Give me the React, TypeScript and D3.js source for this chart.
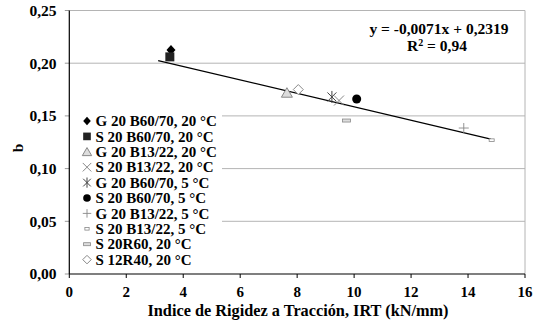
import React from "react";
import * as d3 from "d3";

const seriesNames = [
  "G 20 B60/70, 20 °C",
  "S 20 B60/70, 20 °C",
  "G 20 B13/22, 20 °C",
  "S 20 B13/22, 20 °C",
  "G 20 B60/70, 5 °C",
  "S 20 B60/70, 5 °C",
  "G 20 B13/22, 5 °C",
  "S 20 B13/22, 5 °C",
  "S 20R60, 20 °C",
  "S 12R40, 20 °C",
];
const seriesIRT = [3.57, 3.53, 7.64, 9.47, 9.22, 10.09, 13.85, 14.83, 9.73, 8.04];
const seriesB = [0.2125, 0.206, 0.172, 0.1646, 0.168, 0.166, 0.1385, 0.127, 0.1456, 0.175];
const markerKinds = ["diamondFill", "squareFill", "triangle", "cross", "asterisk", "circleFill", "plus", "smallDash", "dash", "diamondOpen"];

const trendX = [3.12, 14.8];
const trendY = [0.2025, 0.128];

const xTicks = [0, 2, 4, 6, 8, 10, 12, 14, 16];
const yTicks = [0, 0.05, 0.1, 0.15, 0.2, 0.25];

const W = 535, H = 322;
const L = 69.3, R = 525, T = 10.5, B = 274;
const FONT = "'Liberation Serif', 'Times New Roman', serif";

function Marker({ kind, x, y, s = 1 }: { kind: string; x: number; y: number; s?: number }) {
  const g = "#888";
  switch (kind) {
    case "diamondFill":
      return <path d={`M${x},${y - 5 * s}L${x + 4.5 * s},${y}L${x},${y + 5 * s}L${x - 4.5 * s},${y}Z`} fill="#000" />;
    case "squareFill":
      return <rect x={x - 4.5 * s} y={y - 4.5 * s} width={9 * s} height={9 * s} fill="#222" />;
    case "triangle":
      return <path d={`M${x},${y - 5 * s}L${x + 5.5 * s},${y + 4.5 * s}L${x - 5.5 * s},${y + 4.5 * s}Z`} fill="#ddd" stroke={g} strokeWidth={1} />;
    case "cross":
      return <path d={`M${x - 5 * s},${y - 5 * s}L${x + 5 * s},${y + 5 * s}M${x - 5 * s},${y + 5 * s}L${x + 5 * s},${y - 5 * s}`} stroke={g} strokeWidth={1} />;
    case "asterisk":
      return <path d={`M${x - 4.5 * s},${y - 4.5 * s}L${x + 4.5 * s},${y + 4.5 * s}M${x - 4.5 * s},${y + 4.5 * s}L${x + 4.5 * s},${y - 4.5 * s}M${x},${y - 6 * s}L${x},${y + 6 * s}`} stroke="#444" strokeWidth={1} />;
    case "circleFill":
      return <circle cx={x} cy={y} r={4.5 * s} fill="#000" />;
    case "plus":
      return <path d={`M${x - 5 * s},${y}L${x + 5 * s},${y}M${x},${y - 5 * s}L${x},${y + 5 * s}`} stroke={g} strokeWidth={0.9} />;
    case "smallDash":
      return <rect x={x - 2.5 * s} y={y - 1.3} width={5 * s} height={2.6} fill="#fff" stroke={g} strokeWidth={0.8} />;
    case "dash":
      return <rect x={x - 4 * s} y={y - 1.5} width={8 * s} height={3} fill="#ddd" stroke={g} strokeWidth={0.8} />;
    case "diamondOpen":
      return <path d={`M${x},${y - 5 * s}L${x + 5 * s},${y}L${x},${y + 5 * s}L${x - 5 * s},${y}Z`} fill="#fff" stroke={g} strokeWidth={1} />;
  }
  return null;
}

export default function App() {
  const x = d3.scaleLinear().domain([0, 16]).range([L, R]);
  const y = d3.scaleLinear().domain([0, 0.25]).range([B, T]);
  const fmtY = (v: number) => d3.format(".2f")(v).replace(".", ",");
  const line = d3.line<number>().x((_, i) => x(trendX[i])).y((v) => y(v));

  const legTop = 121, legStep = 15.4;

  return (
    <div style={{ position: "absolute", left: 0, top: 0 }}>
      <svg width={W} height={H} style={{ display: "block", background: "#fff" }} fontFamily={FONT}>
        {yTicks.filter((t) => t > 0).map((t) => (
          <line key={t} x1={L} x2={R} y1={y(t)} y2={y(t)} stroke="#b4b4b4" strokeWidth={1} />
        ))}
        <line x1={R} x2={R} y1={T} y2={B} stroke="#b4b4b4" strokeWidth={1} />
        {yTicks.map((t) => (
          <line key={t} x1={L - 4.5} x2={L} y1={y(t)} y2={y(t)} stroke="#999" strokeWidth={1} />
        ))}
        {yTicks.map((t) => (
          <text key={t} x={56.5} y={y(t)} dy="0.35em" textAnchor="end" fontSize={15.5} fontWeight="bold">
            {fmtY(t)}
          </text>
        ))}
        <rect x={L + 0.7} y={112} width={222 - L - 0.7} height={156} fill="#fff" />
        <line x1={L} x2={L} y1={T} y2={B} stroke="#000" strokeWidth={1.2} />
        <line x1={L} x2={R} y1={B} y2={B} stroke="#000" strokeWidth={1.2} />
        {xTicks.map((t) => (
          <line key={t} x1={x(t)} x2={x(t)} y1={B} y2={B + 4} stroke="#000" strokeWidth={1} />
        ))}
        {xTicks.map((t) => (
          <text key={t} x={x(t)} y={297} textAnchor="middle" fontSize={15} fontWeight="bold">
            {t}
          </text>
        ))}
        <path d={line(trendY) || ""} stroke="#000" strokeWidth={1.2} fill="none" />
        {seriesNames.map((n, i) => (
          <Marker key={n} kind={markerKinds[i]} x={x(seriesIRT[i])} y={y(seriesB[i])} />
        ))}
        {seriesNames.map((n, i) => (
          <g key={n}>
            <Marker kind={markerKinds[i]} x={87} y={legTop + i * legStep} s={0.85} />
            <text x={95.5} y={legTop + i * legStep} dy="0.35em" fontSize={15} fontWeight="bold">
              {n}
            </text>
          </g>
        ))}
        <text x={439} y={29} dy="0.35em" textAnchor="middle" fontSize={15.5} fontWeight="bold">
          y = -0,0071x + 0,2319
        </text>
        <text x={437} y={46} dy="0.35em" textAnchor="middle" fontSize={15.5} fontWeight="bold">
          R<tspan dy="-5" fontSize={10}>2</tspan>
          <tspan dy="5"> = 0,94</tspan>
        </text>
        <text x={298} y={316} textAnchor="middle" fontSize={16.3} fontWeight="bold">
          Indice de Rigidez a Tracción, IRT (kN/mm)
        </text>
        <text transform={`translate(23,148) rotate(-90)`} textAnchor="middle" fontSize={15.5} fontWeight="bold">
          b
        </text>
      </svg>
    </div>
  );
}
